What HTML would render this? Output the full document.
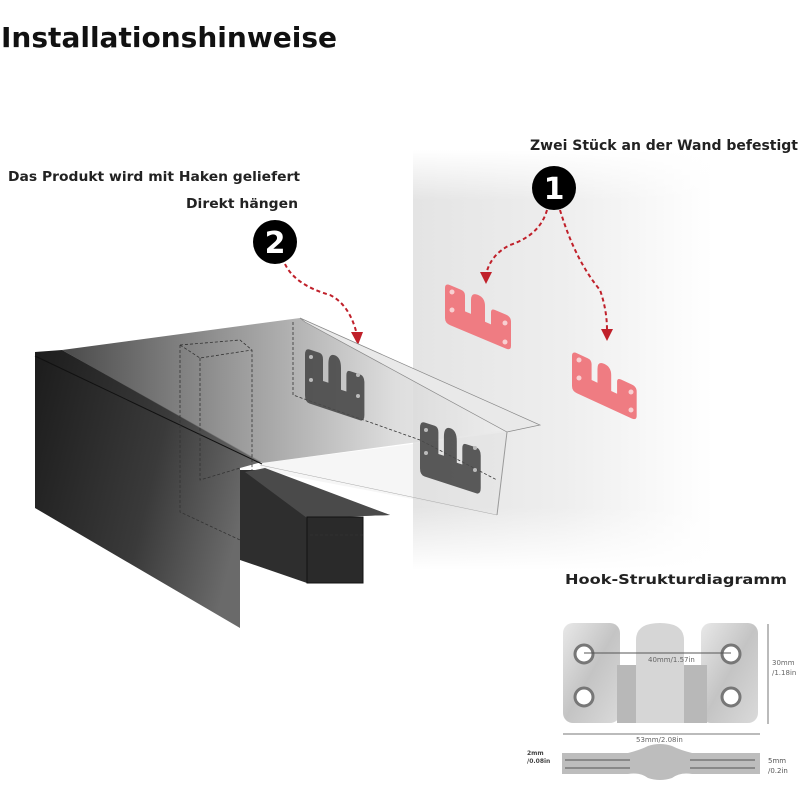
<!DOCTYPE html>
<html><head><meta charset="utf-8"><style>
body{margin:0;background:#fff;}
svg{display:block}
text{font-family:"DejaVu Sans","Liberation Sans",sans-serif;}
</style></head><body>
<svg width="800" height="800" viewBox="0 0 800 800" xmlns="http://www.w3.org/2000/svg">
<defs>
<linearGradient id="wall" x1="0" y1="0" x2="1" y2="0">
<stop offset="0" stop-color="#e4e4e4"/><stop offset="0.5" stop-color="#eeeeee"/><stop offset="1" stop-color="#fff"/>
</linearGradient>
<linearGradient id="wallv" x1="0" y1="0" x2="0" y2="1">
<stop offset="0" stop-color="#fff" stop-opacity="1"/><stop offset="0.12" stop-color="#fff" stop-opacity="0"/><stop offset="0.85" stop-color="#fff" stop-opacity="0"/><stop offset="1" stop-color="#fff" stop-opacity="1"/>
</linearGradient>
<linearGradient id="dark" x1="0" y1="0" x2="1" y2="0.3">
<stop offset="0" stop-color="#1c1c1c"/><stop offset="0.6" stop-color="#3a3a3a"/><stop offset="1" stop-color="#6a6a6a"/>
</linearGradient>
<linearGradient id="glass" x1="0" y1="0" x2="1" y2="0">
<stop offset="0" stop-color="#2a2a2a"/><stop offset="0.4" stop-color="#8a8a8a"/><stop offset="0.75" stop-color="#d8d8d8"/><stop offset="1" stop-color="#eeeeee"/>
</linearGradient>
<linearGradient id="metal" x1="0" y1="0" x2="1" y2="1">
<stop offset="0" stop-color="#e8e8e8"/><stop offset="0.5" stop-color="#c4c4c4"/><stop offset="1" stop-color="#dadada"/>
</linearGradient>
<path id="plate" d="M5,0 H16 Q20,0 20,4 V20 H26 V6 Q26,-2 33,-2 Q40,-2 40,6 V22 H46 V10 Q46,6 50,6 H61 Q66,6 66,11 V35 Q66,40 61,40 H5 Q0,40 0,35 V5 Q0,0 5,0 Z"/>
</defs>

<text x="1" y="47" font-size="28" font-weight="bold" fill="#111" textLength="336" lengthAdjust="spacingAndGlyphs">Installationshinweise</text>

<!-- wall -->
<rect x="413" y="150" width="300" height="420" fill="url(#wall)"/>
<rect x="413" y="150" width="300" height="420" fill="url(#wallv)"/>

<text x="530" y="150" font-size="14" font-weight="bold" fill="#222" textLength="268" lengthAdjust="spacingAndGlyphs">Zwei Stück an der Wand befestigt</text>
<text x="8" y="181" font-size="13" font-weight="bold" fill="#222" textLength="292" lengthAdjust="spacingAndGlyphs">Das Produkt wird mit Haken geliefert</text>
<text x="186" y="208" font-size="13" font-weight="bold" fill="#222" textLength="112" lengthAdjust="spacingAndGlyphs">Direkt hängen</text>

<circle cx="554" cy="188" r="22" fill="#000"/>
<text x="554" y="199" font-size="30" font-weight="bold" fill="#fff" text-anchor="middle">1</text>
<circle cx="275" cy="242" r="22" fill="#000"/>
<text x="275" y="253" font-size="30" font-weight="bold" fill="#fff" text-anchor="middle">2</text>

<g fill="none" stroke="#c0202a" stroke-width="2" stroke-dasharray="4,3">
<path d="M547,210 Q540,235 510,245 Q490,255 486,275"/>
<path d="M560,210 Q575,260 600,290 Q607,310 607,330"/>
<path d="M285,264 Q295,285 330,295 Q350,305 357,335"/>
</g>
<g fill="#c0202a">
<path d="M480,272 L492,272 L486,284 Z"/>
<path d="M601,329 L613,329 L607,341 Z"/>
<path d="M351,332 L363,332 L358,345 Z"/>
</g>

<!-- red plates -->
<g fill="#ef7c82">
<use href="#plate" transform="matrix(1,0.42,0,1,445,283)"/>
<use href="#plate" transform="matrix(0.98,0.45,0,1.0,572,351)"/>
</g>
<g fill="#f8d0d2">
<circle cx="452" cy="292" r="2.5"/><circle cx="452" cy="310" r="2.5"/><circle cx="505" cy="323" r="2.5"/><circle cx="505" cy="342" r="2.5"/>
<circle cx="579" cy="360" r="2.5"/><circle cx="579" cy="378" r="2.5"/><circle cx="631" cy="392" r="2.5"/><circle cx="631" cy="410" r="2.5"/>
</g>

<!-- product -->
<polygon points="35,352 62,350 262,462 240,468 240,628 35,508" fill="url(#dark)"/>
<polygon points="62,350 300,318 507,430 262,463" fill="url(#glass)" opacity="0.85"/>
<polygon points="300,318 540,425 507,432 305,322" fill="#e9e9e9" stroke="#888" stroke-width="0.7"/>
<polygon points="262,463 507,432 497,515 260,470" fill="#ddd" opacity="0.25"/>
<line x1="507" y1="432" x2="497" y2="515" stroke="#999"/>
<line x1="260" y1="465" x2="497" y2="515" stroke="#aaa" stroke-width="0.5"/>
<line x1="35" y1="356" x2="262" y2="464" stroke="#111" stroke-width="1"/>
<!-- arm -->
<polygon points="240,470 265,470 390,515 307,518 307,583 240,560" fill="#2e2e2e"/>
<polygon points="245,472 265,468 390,515 307,518" fill="#4a4a4a"/>
<rect x="307" y="517" width="56" height="66" fill="#2a2a2a" stroke="#111"/>
<!-- dashed -->
<g fill="none" stroke="#333" stroke-width="0.8" stroke-dasharray="3,2">
<path d="M180,345 L240,340 L252,350 L252,470"/>
<path d="M180,345 L200,358 L252,350"/>
<path d="M200,358 L200,480 L240,468"/>
<path d="M180,345 L180,512 L240,540"/>
<path d="M293,322 L293,395 L420,440 L497,480"/>
<path d="M310,535 L363,535"/>
</g>
<!-- grey plates on glass -->
<g fill="#4a4a4a" opacity="0.9">
<use href="#plate" transform="matrix(0.9,0.3,0,1.35,305,348)"/>
<use href="#plate" transform="matrix(0.92,0.3,0,1.35,420,421)"/>
</g>
<g fill="#bbb">
<circle cx="311" cy="357" r="2"/><circle cx="311" cy="380" r="2"/><circle cx="358" cy="375" r="2"/><circle cx="358" cy="396" r="2"/>
<circle cx="426" cy="430" r="2"/><circle cx="426" cy="453" r="2"/><circle cx="475" cy="448" r="2"/><circle cx="475" cy="470" r="2"/>
</g>

<!-- hook diagram -->
<text x="565" y="584" font-size="13" font-weight="bold" fill="#222" textLength="222" lengthAdjust="spacingAndGlyphs">Hook-Strukturdiagramm</text>
<g>
<rect x="563" y="623" width="57" height="100" rx="10" fill="url(#metal)"/>
<rect x="701" y="623" width="57" height="100" rx="10" fill="url(#metal)"/>
<rect x="617" y="665" width="90" height="58" fill="#b8b8b8"/>
<path d="M636,723 V640 Q636,623 660,623 Q684,623 684,640 V723 Z" fill="#d6d6d6"/>
<g fill="#fff" stroke="#777" stroke-width="3">
<circle cx="584" cy="654" r="9"/><circle cx="584" cy="697" r="9"/>
<circle cx="731" cy="654" r="9"/><circle cx="731" cy="697" r="9"/>
</g>
<line x1="584" y1="653" x2="731" y2="653" stroke="#555" stroke-width="1"/>
<text x="648" y="662" font-size="7" fill="#666">40mm/1.57in</text>
<line x1="768" y1="624" x2="768" y2="724" stroke="#777"/>
<text x="772" y="665" font-size="7" fill="#666">30mm</text>
<text x="772" y="675" font-size="7" fill="#666">/1.18in</text>
<line x1="563" y1="734" x2="760" y2="734" stroke="#777"/>
<text x="636" y="742" font-size="7" fill="#666">53mm/2.08in</text>
<path d="M562,753 H628 Q640,750 648,746 Q660,742 672,746 Q680,750 692,753 H760 V774 H692 Q680,772 672,778 Q660,782 648,778 Q640,772 628,774 H562 Z" fill="#bdbdbd"/>
<path d="M565,760 H630 M690,760 H755 M565,768 H630 M690,768 H755" stroke="#888" stroke-width="2"/>
<text x="527" y="755" font-size="6" font-weight="bold" fill="#444">2mm</text>
<text x="527" y="763" font-size="6" font-weight="bold" fill="#444">/0.08in</text>
<text x="768" y="763" font-size="7" fill="#555">5mm</text>
<text x="768" y="773" font-size="7" fill="#555">/0.2in</text>
</g>
</svg>
</body></html>
